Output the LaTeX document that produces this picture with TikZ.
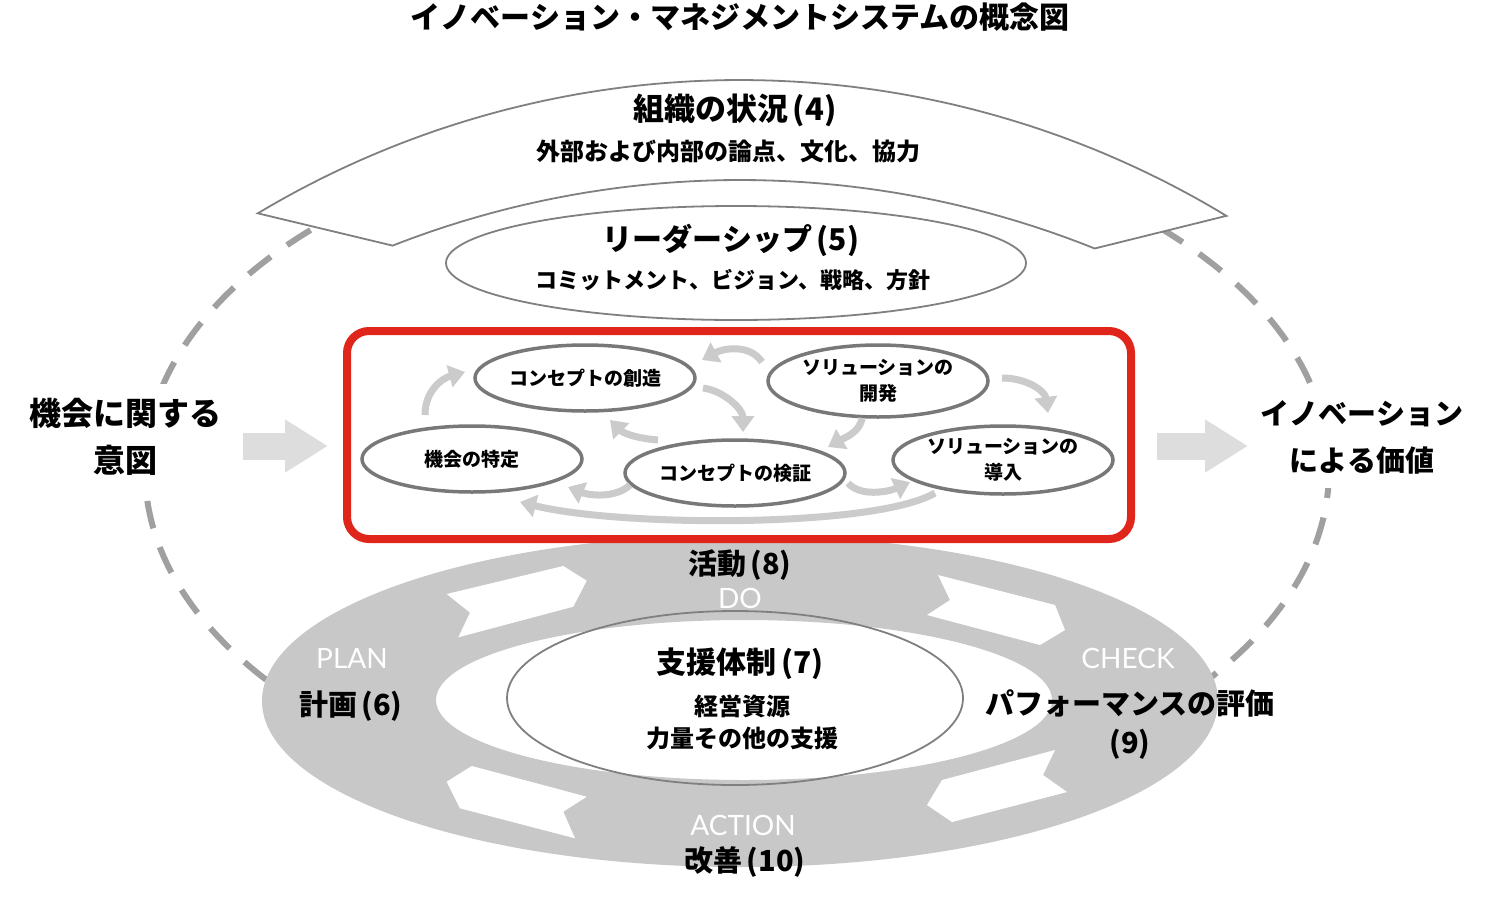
\documentclass[tikz,border=0pt]{standalone}
\usepackage{fontspec}
\usetikzlibrary{shapes.geometric,arrows.meta,calc}
\newfontfamily\jp{Noto Sans CJK JP}
\newfontfamily\lat{Lato}
\definecolor{ringgray}{HTML}{C8C8C8}
\definecolor{dashgray}{HTML}{A0A0A0}
\definecolor{linegray}{HTML}{808080}
\definecolor{ellgray}{HTML}{787878}
\definecolor{arrgray}{HTML}{CBCBCB}
\definecolor{biggray}{HTML}{DDDDDD}
\definecolor{boxred}{HTML}{E0261B}
\newcommand{\pn}[1]{\hspace{0.15em}(#1)}
\begin{document}
\begin{tikzpicture}[x=1pt,y=-1pt,
  jt/.style 2 args={font={\jp\bfseries\fontsize{#1}{#2}\selectfont}, inner sep=0pt, align=center, text=black},
  wl/.style={font={\lat\fontsize{28}{28}\selectfont}, text=white, inner sep=0pt},
  inell/.style={ellipse, draw=ellgray, line width=3.5pt, fill=white, inner sep=0pt,
                minimum width=220pt, minimum height=66pt,
                font={\jp\bfseries\fontsize{19}{26}\selectfont}, align=center},
  thinell/.style={ellipse, draw=linegray, line width=1.8pt, inner sep=0pt},
  flow/.style={draw=arrgray, line width=7pt, -{Triangle[length=16pt,width=22pt]}},
  bigarrow/.style={draw=biggray, line width=27pt, -{Triangle[length=43pt,width=50pt]}},
  ringarrow/.style={fill=white, draw=none}
]
\path[use as bounding box, fill=white] (0,0) rectangle (1503,905);

% dashed outer ellipse
\draw[dashgray, line width=6pt, dash pattern=on 28pt off 20pt] (737,470) ellipse [x radius=592, y radius=346];

% organisation band
\draw[linegray, line width=1.8pt, fill=white, line join=miter]
  plot[domain=-120.9:-58.8, samples=90] ({740+939*cos(\x)},{1019+939*sin(\x)})
  -- plot[domain=0:1, samples=90] ({740+953*cos(-68.15-43.25*\x)},{1133+953*sin(-68.15-43.25*\x)})
  -- cycle;

% leadership ellipse
\node[thinell, minimum width=580pt, minimum height=114pt] (lead) at (736,263) {};

% PDCA ring
\fill[ringgray, even odd rule] (740,701) ellipse [x radius=478, y radius=166]
                               (744,700) ellipse [x radius=308, y radius=80];
\fill[ringarrow] (446.7,594) -- (563.3,566) -- (586.7,580.7) -- (573.3,606.7) -- (458.3,637.3) -- (470,612.7) -- cycle;
\fill[ringarrow] (938,575) -- (1055,605) -- (1065,630) -- (1040,645) -- (927,615) -- (950,600) -- cycle;
\fill[ringarrow] (446.7,781.7) -- (471.7,766) -- (586.7,796.7) -- (563.3,811.7) -- (575,838.3) -- (460,808.3) -- cycle;
\fill[ringarrow] (1055,750) -- (1043,775) -- (1067,792) -- (952,822) -- (927,805) -- (942,780) -- cycle;

% support ellipse
\node[thinell, minimum width=456pt, minimum height=174pt] (sup) at (735,698) {};

% red activity box
\node[draw=boxred, line width=8pt, rounded corners=22pt, fill=white,
      minimum width=784pt, minimum height=208pt, inner sep=0pt] (box) at (739,435) {};

% activity ellipses
\node[inell] (op) at (472,459) {機会の特定};
\node[inell] (cc) at (585,378) {コンセプトの創造};
\node[inell, minimum height=72pt] (sd) at (878,381) {ソリューションの\\開発};
\node[inell] (cv) at (735,473) {コンセプトの検証};
\node[inell, minimum height=68pt] (si) at (1003,460) {ソリューションの\\導入};

% activity flows
\draw[flow] ($(op)+(-47,-44)$) .. controls +(0,-25) and +(-22,6) .. ($(cc)+(-120,-6)$);
\draw[flow] ($(cc)+(118,10)$) .. controls +(22,3) and +(0,-22) .. ($(cv)+(8,-41)$);
\draw[flow] ($(cv)+(-77,-33)$) .. controls +(-25,-2) and +(12,12) .. ($(cc)+(25,42)$);
\draw[flow] ($(sd)+(-116,-19)$) .. controls +(-12,-18) and +(22,-12) .. ($(cc)+(117,-18)$);
\draw[flow] ($(sd)+(124,-3)$) .. controls +(25,0) and +(-3,-22) .. ($(si)+(45,-47)$);
\draw[flow] ($(sd)+(-16,37)$) .. controls +(-2,15) and +(14,-8) .. ($(cv)+(93,-26)$);
\draw[flow] ($(cv)+(-105,12)$) .. controls +(-15,14) and +(20,8) .. ($(op)+(96,28)$);
\draw[flow] ($(cv)+(113,10)$) .. controls +(12,14) and +(-22,10) .. ($(si)+(-93,22)$);
\draw[flow] ($(si)+(-68,33)$) .. controls +(-60,35) and +(100,25) .. ($(op)+(48,43)$);

% big side arrows
\coordinate (lin) at (243,446);
\coordinate (rout) at (1248,446);
\draw[bigarrow] (lin) -- ($(box.west)+(-15,11)$);
\draw[bigarrow] ($(box.east)+(22,11)$) -- (rout);

% texts
\node[jt={30}{30}] (title) at (740,17) {イノベーション・マネジメントシステムの概念図};
\node[jt={31}{31}] (orgt) at (735,110) {組織の状況\pn{4}};
\node[jt={24}{24}] (orgs) at (728,151) {外部および内部の論点、文化、協力};
\node[jt={30}{30}] (leadt) at (731,240) {リーダーシップ\pn{5}};
\node[jt={22}{22}] (leads) at (733,280) {コミットメント、ビジョン、戦略、方針};
\node[jt={32}{47}, fill=white, inner xsep=6pt, inner ysep=14pt] (intent) at (125,437) {機会に関する\\意図};
\node[jt={29}{47}, fill=white, inner xsep=6pt, inner ysep=14pt] (value) at (1362,437) {イノベーション\\による価値};
\node[jt={29}{29}] (act) at (740,565) {活動\pn{8}};
\node[wl] (do) at (740,598) {DO};
\node[wl] (plan) at (352,658) {PLAN};
\node[jt={29}{29}] (pl) at (351,706) {計画\pn{6}};
\node[wl] (check) at (1128,658) {CHECK};
\node[jt={29}{39}] (perf) at (1130,725) {パフォーマンスの評価\\(9)};
\node[wl] (action) at (743,825) {ACTION};
\node[jt={29}{29}] (imp) at (745,862) {改善\pn{10}};
\node[jt={30}{30}] (supt) at (740,664) {支援体制\pn{7}};
\node[jt={24}{32}] (sups) at (742,722) {経営資源\\力量その他の支援};
\end{tikzpicture}
\end{document}
